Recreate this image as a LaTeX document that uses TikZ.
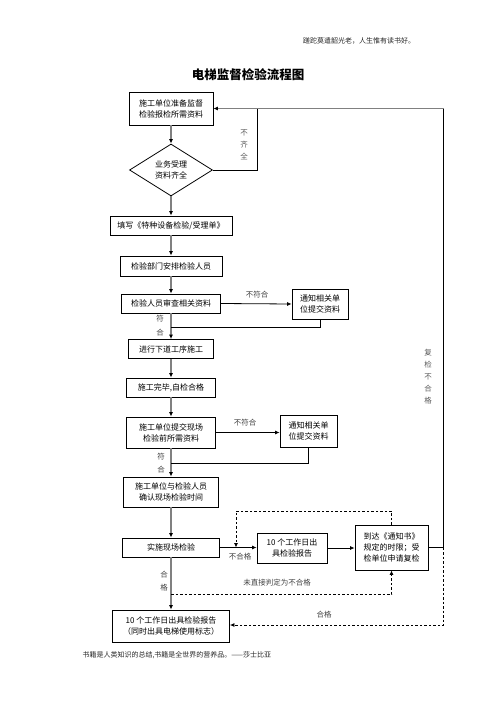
\documentclass[tikz,border=0pt]{standalone}
\usepackage{fontspec}
\setmainfont{Noto Sans CJK SC}
\usetikzlibrary{shapes.geometric,arrows.meta}
\begin{document}
\begin{tikzpicture}[x=1pt,y=-1pt,
  box/.style={draw,line width=0.8pt,align=center,inner sep=0pt,font=\fontsize{8}{11}\selectfont},
  dia/.style={draw,diamond,line width=0.8pt,align=center,inner sep=0pt,font=\fontsize{8}{11}\selectfont},
  mainarr/.style={draw=black!50,line width=1.6pt,-{Latex[length=4.5pt,width=4pt,color=black]}},
  arr/.style={draw=black,line width=0.8pt,-{Latex[length=4.5pt,width=4pt]}},
  ln/.style={draw=black,line width=0.8pt},
  dsh/.style={draw=black,line width=0.8pt,dashed,dash pattern=on 2.5pt off 2pt},
  lbl/.style={font=\fontsize{7.5}{11}\selectfont,text=black!75,align=center,inner sep=0pt},
  vlbl/.style={font=\fontsize{7.5}{12}\selectfont,text=black!65,align=center,inner sep=0pt}]
\useasboundingbox (0,0) rectangle (496,702);
% header / footer / title
\node[font=\fontsize{7}{9}\selectfont,text=black!85] (hdr) at (359,41) {蹉跎莫遣韶光老，人生惟有读书好。};
\node[font=\fontsize{7}{9}\selectfont,text=black!85,anchor=west] (ftr) at (79,655) {书籍是人类知识的总结,书籍是全世界的营养品。——莎士比亚};
\node[font=\fontsize{12.5}{14}\selectfont\bfseries] (title) at (248,75) {电梯监督检验流程图};
% nodes
\node[box,minimum width=84pt,minimum height=33pt] (b1) at (171,108.5) {施工单位准备监督\\检验报检所需资料};
\node[dia,minimum width=83pt,minimum height=52pt] (d) at (171,170) {业务受理\\资料齐全};
\node[box,minimum width=122pt,minimum height=19pt] (b2) at (171,225.5) {填写《特种设备检验/受理单》};
\node[box,minimum width=102pt,minimum height=20pt] (b3) at (171,266) {检验部门安排检验人员};
\node[box,minimum width=99pt,minimum height=19pt] (b4) at (171,303.5) {检验人员审查相关资料};
\node[box,minimum width=56pt,minimum height=30pt] (n1) at (320,304) {通知相关单\\位提交资料};
\node[box,minimum width=85pt,minimum height=19pt] (b5) at (171,349) {进行下道工序施工};
\node[box,minimum width=89pt,minimum height=19pt] (b6) at (171,387.5) {施工完毕,自检合格};
\node[box,minimum width=89pt,minimum height=31pt] (b7) at (171,432.5) {施工单位提交现场\\检验前所需资料};
\node[box,minimum width=57pt,minimum height=32pt] (n2) at (308.5,431) {通知相关单\\位提交资料};
\node[box,minimum width=95pt,minimum height=30pt] (b8) at (171,492) {施工单位与检验人员\\确认现场检验时间};
\node[box,minimum width=97pt,minimum height=19pt] (b9) at (171,547.5) {实施现场检验};
\node[box,minimum width=70pt,minimum height=30pt] (b10) at (292,548) {10 个工作日出\\具检验报告};
\node[box,minimum width=73pt,minimum height=45pt] (b11) at (391.5,547.5) {到达《通知书》\\规定的时限；受\\检单位申请复检};
\node[box,minimum width=117pt,minimum height=32pt] (b12) at (171,626) {10 个工作日出具检验报告\\（同时出具电梯使用标志）};
% coordinates
\coordinate (r1) at (257,108.5);
\coordinate (rt) at (443.5,108.5);
\coordinate (j1) at (171,327);
\coordinate (j2) at (171,463);
\coordinate (j3) at (171,594);
\coordinate (dt) at (236,511);
\coordinate (dk) at (236,547.5);
\coordinate (rb) at (443.5,625);
% main flow
\draw[mainarr] (b1.south) -- (d.north);
\draw[mainarr] (d.south) -- (b2.north);
\draw[mainarr] (b2.south) -- (b3.north);
\draw[mainarr] (b3.south) -- (b4.north);
\draw[mainarr] (b4.south) -- (b5.north);
\draw[mainarr] (b5.south) -- (b6.north);
\draw[mainarr] (b6.south) -- (b7.north);
\draw[mainarr] (b7.south) -- (b8.north);
\draw[mainarr] (b8.south) -- (b9.north);
\draw[mainarr] (b9.south) -- (b12.north);
% loop not complete
\draw[ln] (d.east) -| (r1);
\draw[draw=black!50,line width=1.6pt] (rt) -- (r1);
\draw[draw=black!50,line width=1.6pt,-{Latex[length=4.5pt,width=4pt,color=black]}] (r1) -- (b1.east);
\draw[ln] (b11.east) -- (b11.east -| rt) -- (rt);
% side loops
\draw[arr] (b4.east) -- (n1.west);
\draw[ln] (n1.south) |- (j1);
\draw[arr] (b7.east) -- (n2.west |- b7.east);
\draw[ln] (n2.south) |- (j2);
\draw[arr] (b9.east) -- (b10.west |- b9.east);
\draw[arr] (b10.east) -- (b11.west |- b10.east);
% dashed
\draw[dsh,-{Latex[length=4.5pt,width=4pt]}] (b11.north) |- (dt) -- (dk);
\draw[dsh,-{Latex[length=4.5pt,width=4pt]}] (j3) -| (b11.south);
\draw[dsh,-{Latex[length=4.5pt,width=4pt]}] (b11.east -| rt) -- (rb) -- (b12.east |- rb);
% labels
\node[vlbl] (l1) at (244,145) {不\\齐\\全};
\node[vlbl] (l2) at (428,377) {复\\检\\不\\合\\格};
\node[lbl] (l3) at (257,295) {不符合};
\node[vlbl,text=black!75,font=\fontsize{7.5}{14}\selectfont] (l4) at (160,325.5) {符\\合};
\node[lbl] (l5) at (245,423) {不符合};
\node[vlbl,text=black!75,font=\fontsize{7.5}{13}\selectfont] (l6) at (161,463.5) {符\\合};
\node[lbl] (l7) at (240,557) {不合格};
\node[vlbl,text=black!75,font=\fontsize{7.5}{13}\selectfont] (l8) at (164,581.5) {合\\格};
\node[lbl] (l9) at (277,583) {未直接判定为不合格};
\node[lbl] (l10) at (324,615) {合格};
\end{tikzpicture}
\end{document}
